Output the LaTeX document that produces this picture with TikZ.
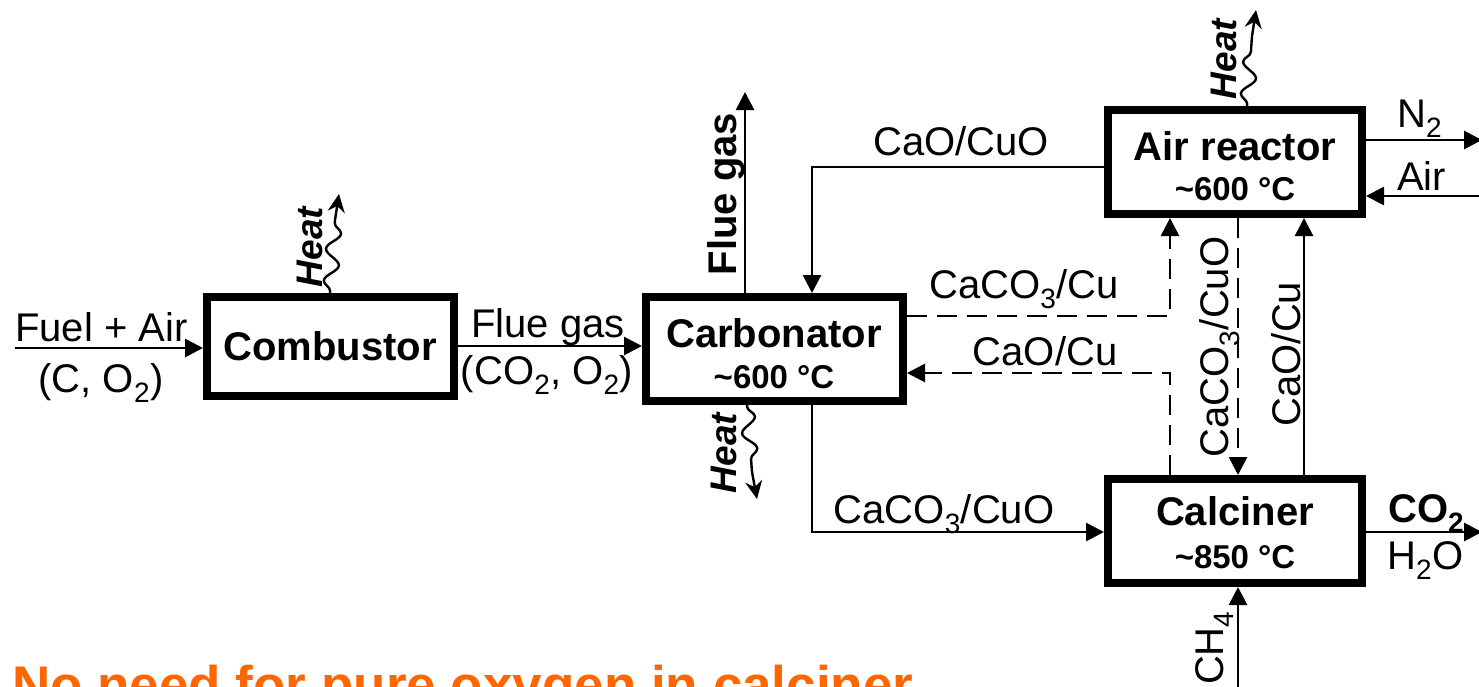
\documentclass[tikz,border=0pt]{standalone}
\usepackage{fontspec}
\setmainfont{Liberation Sans}
\usetikzlibrary{arrows.meta,decorations.pathmorphing}
\definecolor{orng}{HTML}{FF6600}
\newcommand{\fsreg}{\fontsize{40}{46}\selectfont}
\newcommand{\fsbig}{\fontsize{40}{46}\selectfont\bfseries}
\newcommand{\fstemp}{\fontsize{33}{38}\selectfont\bfseries}
\newcommand{\fsheat}{\fontsize{37}{42}\selectfont\bfseries\itshape}
\newcommand{\sbs}[1]{\textsubscript{#1}}
\tikzset{
  box/.style={draw, line width=8pt, minimum width=#1, inner sep=0pt},
  box/.default=254pt,
  conn/.style={line width=2.8pt, -{Triangle[length=18pt,width=18pt]}},
  dconn/.style={conn, dash pattern=on 20pt off 10pt},
  wave/.style={line width=2.4pt, decorate,
    decoration={snake, amplitude=7pt, segment length=32pt, pre length=2pt, post length=1pt}},
  heattip/.style={line width=2.4pt, -{Stealth[length=18pt,width=17pt]}},
  lbl/.style={inner sep=0pt, font=\fsreg},
  blbl/.style={inner sep=0pt, font=\fsbig},
  tlbl/.style={inner sep=0pt, font=\fstemp},
  hlbl/.style={inner sep=0pt, font=\fsheat, rotate=90, anchor=base},
}
\begin{document}
\begin{tikzpicture}[x=1pt, y=-1pt]
\useasboundingbox (0,0) rectangle (1479,686);
\clip (0,0) rectangle (1479,686);
\fill[white] (0,0) rectangle (1479,686);

% boxes
\node[box=247pt, minimum height=99pt] (comb) at (330.5,346.5) {};
\node[box=257pt, minimum height=104pt] (carb) at (774.5,349) {};
\node[box=254pt, minimum height=104pt] (air) at (1235,162) {};
\node[box=254pt, minimum height=104pt] (calc) at (1235,531) {};

% box texts
\node[blbl, anchor=base] (tcomb) at (330,360) {Combustor};
\node[blbl, anchor=base] (tcarb) at (774,347) {Carbonator};
\node[tlbl, anchor=base] (tcarbT) at (774,388) {\textasciitilde 600 °C};
\node[blbl, anchor=base] (tair) at (1235,160) {Air reactor};
\node[tlbl, anchor=base] (tairT) at (1235,200) {\textasciitilde 600 °C};
\node[blbl, anchor=base] (tcalc) at (1235,525) {Calciner};
\node[tlbl, anchor=base] (tcalcT) at (1235,568) {\textasciitilde 850 °C};

% free ends
\coordinate (fuelin) at (15,348);
\coordinate (fgout) at (745,92);
\coordinate (n2out) at (1482,140);
\coordinate (airin) at (1482,196);
\coordinate (co2out) at (1482,532);
\coordinate (ch4in) at (1238,690);
% heat waves: wave end (w) and tip (h)
\coordinate (wcomb) at (335,220);
\coordinate (hcomb) at (339,194);
\coordinate (wcarb) at (752,472);
\coordinate (hcarb) at (757,499);
\coordinate (wair) at (1252,36);
\coordinate (hair) at (1256,10);

% connectors
\draw[conn] (fuelin) -- (comb.west |- fuelin);
\draw[conn] (comb.east |- 0,346) -- (carb.west |- 0,346);
\draw[conn] (carb.north -| fgout) -- (fgout);
\draw[conn] (air.west |- 0,167) -- (812,167) -- (carb.north -| 812,0);
\draw[dconn] (carb.east |- 0,316) -- (1170,316) -- (air.south -| 1170,0);
\draw[dconn] (calc.north -| 1170,0) -- (1170,373) -- (carb.east |- 0,373);
\draw[dconn] (air.south -| 1238,0) -- (calc.north -| 1238,0);
\draw[conn] (calc.north -| 1304,0) -- (air.south -| 1304,0);
\draw[conn] (carb.south -| 812,0) -- (812,532) -- (calc.west |- 0,532);
\draw[conn] (air.east |- n2out) -- (n2out);
\draw[conn] (airin) -- (air.east |- airin);
\draw[conn] (calc.east |- co2out) -- (co2out);
\draw[conn] (ch4in) -- (calc.south -| ch4in);

% heat
\draw[wave] (comb.north -| 330,0) -- (wcomb);
\draw[heattip] (wcomb) -- (hcomb);
\draw[wave] (carb.south -| 747,0) -- (wcarb);
\draw[heattip] (wcarb) -- (hcarb);
\draw[wave] (air.north -| 1247,0) -- (wair);
\draw[heattip] (wair) -- (hair);
\node[hlbl] (lhcomb) at (322,247) {Heat};
\node[hlbl] (lhcarb) at (736,453) {Heat};
\node[hlbl] (lhair) at (1236,59) {Heat};

% labels
\node[lbl, anchor=base west] (lfuel) at (15,341) {Fuel + Air};
\node[lbl, anchor=base] (lfuel2) at (101,392) {(C, O\sbs{2})};
\node[lbl, anchor=base] (lfg) at (548,337) {Flue gas};
\node[lbl, anchor=base] (lfg2) at (547,384) {(CO\sbs{2}, O\sbs{2})};
\node[blbl, rotate=90, anchor=base] (lfgv) at (736,194) {Flue gas};
\node[lbl, anchor=base] (lcc1) at (961,155) {CaO/CuO};
\node[lbl, anchor=base] (lcc2) at (1024,298) {CaCO\sbs{3}/Cu};
\node[lbl, anchor=base] (lcc3) at (1045,365) {CaO/Cu};
\node[lbl, anchor=base] (lcc4) at (944,523) {CaCO\sbs{3}/CuO};
\node[lbl, rotate=90, anchor=base] (lcc5) at (1228,347) {CaCO\sbs{3}/CuO};
\node[lbl, rotate=90, anchor=base] (lcc6) at (1300,354) {CaO/Cu};
\node[lbl, rotate=90, anchor=base] (lch4) at (1223,648) {CH\sbs{4}};
\node[lbl, anchor=base west] (ln2) at (1397,127) {N\sbs{2}};
\node[lbl, anchor=base west] (lair) at (1397,190) {Air};
\node[blbl, anchor=base west] (lco2) at (1388,522) {CO\sbs{2}};
\node[lbl, anchor=base west] (lh2o) at (1387,569) {H\sbs{2}O};

% bottom note
\node[inner sep=0pt, anchor=base west, text=orng, font=\fontsize{53}{60}\selectfont\bfseries] (note) at (12,703) {No need for pure oxygen in calciner};
\end{tikzpicture}
\end{document}
